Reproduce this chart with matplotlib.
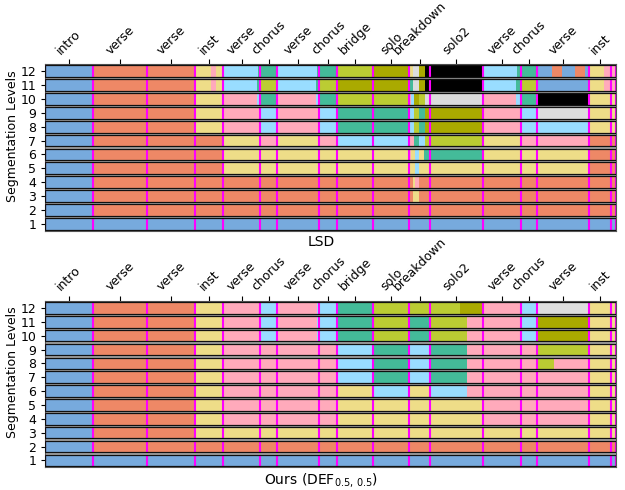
import matplotlib
matplotlib.use("Agg")
import matplotlib.pyplot as plt

# Colour for each segment label
palette = {
    "B": "#77AADD", "O": "#EE8866", "Y": "#EEDD88", "P": "#FFAABB", "L": "#99DDFF",
    "T": "#44BB99", "G": "#BBCC33", "V": "#AAAA00", "S": "#DDDDDD", "K": "#000000",
}

# Reference section boundaries (seconds) and their annotations
section_bounds = [0, 23.7, 51.0, 74.9, 88.7, 107.4, 116.0, 137.0, 145.7, 164.0,
                  182.0, 192.0, 218.7, 237.7, 245.7, 271.7, 282.7, 285.2]
section_labels = ["intro", "verse", "verse", "inst", "verse", "chorus", "verse", "chorus",
                  "bridge", "solo", "breakdown", "solo2", "verse", "chorus", "verse", "inst"]
duration = section_bounds[-1]

# Each level: list of (segment end, label); segments start where the previous one ends
lsd_levels = [
    [(285.2, "B")],
    [(23.7, "B"), (285.2, "O")],
    [(23.7, "B"), (183.9, "O"), (186.7, "Y"), (285.2, "O")],
    [(23.7, "B"), (183.7, "O"), (184.9, "Y"), (186.7, "P"), (285.2, "O")],
    [(23.7, "B"), (88.7, "O"), (184.9, "Y"), (186.7, "L"), (271.7, "Y"), (285.2, "O")],
    [(23.7, "B"), (88.7, "O"), (182.0, "Y"), (182.9, "P"), (184.9, "Y"), (186.7, "L"),
     (189.4, "Y"), (218.7, "T"), (271.7, "Y"), (285.2, "O")],
    [(23.7, "B"), (88.7, "O"), (107.4, "Y"), (116.0, "P"), (137.0, "Y"), (145.7, "P"),
     (182.0, "L"), (184.4, "P"), (186.7, "T"), (189.9, "L"), (218.7, "G"), (237.7, "Y"),
     (271.7, "P"), (285.2, "O")],
    [(23.7, "B"), (74.9, "O"), (88.7, "Y"), (107.4, "P"), (116.0, "L"), (137.0, "P"),
     (145.7, "L"), (182.0, "T"), (184.4, "L"), (186.7, "G"), (189.9, "T"), (218.7, "V"),
     (237.7, "P"), (271.7, "L"), (285.2, "Y")],
    [(23.7, "B"), (74.9, "O"), (88.7, "Y"), (107.4, "P"), (116.0, "L"), (137.0, "P"),
     (145.7, "L"), (182.0, "T"), (184.4, "L"), (186.7, "G"), (189.9, "T"), (218.7, "V"),
     (237.7, "P"), (245.7, "L"), (271.7, "S"), (285.2, "Y")],
    [(23.7, "B"), (74.9, "O"), (88.7, "Y"), (105.9, "P"), (107.4, "L"), (116.0, "T"),
     (135.4, "P"), (137.0, "L"), (145.7, "T"), (182.0, "G"), (182.9, "P"), (184.4, "L"),
     (186.7, "V"), (189.9, "G"), (218.7, "S"), (235.4, "P"), (237.7, "L"), (245.7, "T"),
     (271.7, "K"), (285.2, "Y")],
    [(23.7, "B"), (74.9, "O"), (82.9, "Y"), (85.4, "P"), (88.7, "Y"), (105.9, "L"),
     (107.4, "T"), (116.0, "G"), (135.4, "L"), (137.0, "T"), (145.7, "G"), (182.0, "V"),
     (184.0, "T"), (186.7, "S"), (189.9, "V"), (218.7, "K"), (235.4, "L"), (237.7, "T"),
     (245.7, "G"), (271.7, "B"), (279.4, "Y"), (285.2, "P")],
    [(23.7, "B"), (74.9, "O"), (82.9, "Y"), (85.4, "P"), (88.7, "Y"), (106.5, "L"),
     (116.0, "T"), (135.9, "L"), (145.7, "T"), (164.0, "G"), (182.0, "V"), (184.0, "Y"),
     (186.7, "S"), (189.9, "V"), (218.7, "K"), (235.7, "L"), (245.7, "T"), (253.2, "B"),
     (258.2, "O"), (264.9, "B"), (269.9, "O"), (271.7, "B"), (279.4, "Y"), (285.2, "P")],
]

ours_levels = [
    [(285.2, "B")],
    [(23.7, "B"), (285.2, "O")],
    [(23.7, "B"), (74.9, "O"), (285.2, "Y")],
    [(23.7, "B"), (74.9, "O"), (88.7, "Y"), (145.7, "P"), (218.7, "Y"), (271.7, "P"),
     (285.2, "Y")],
    [(23.7, "B"), (74.9, "O"), (88.7, "Y"), (145.7, "P"), (218.7, "Y"), (271.7, "P"),
     (285.2, "Y")],
    [(23.7, "B"), (74.9, "O"), (88.7, "Y"), (145.7, "P"), (164.0, "Y"), (182.0, "L"),
     (192.0, "Y"), (210.7, "L"), (271.7, "P"), (285.2, "Y")],
    [(23.7, "B"), (74.9, "O"), (88.7, "Y"), (145.7, "P"), (164.0, "L"), (182.0, "T"),
     (192.0, "L"), (210.7, "T"), (271.7, "P"), (285.2, "Y")],
    [(23.7, "B"), (74.9, "O"), (88.7, "Y"), (145.7, "P"), (164.0, "L"), (182.0, "T"),
     (192.0, "L"), (210.7, "T"), (245.7, "P"), (254.4, "G"), (271.7, "P"), (285.2, "Y")],
    [(23.7, "B"), (74.9, "O"), (88.7, "Y"), (145.7, "P"), (164.0, "L"), (182.0, "T"),
     (192.0, "L"), (210.7, "T"), (245.7, "P"), (271.7, "G"), (285.2, "Y")],
    [(23.7, "B"), (74.9, "O"), (88.7, "Y"), (106.9, "P"), (116.0, "L"), (135.7, "P"),
     (145.7, "L"), (164.0, "T"), (182.0, "G"), (192.0, "T"), (210.7, "G"), (237.7, "P"),
     (245.7, "L"), (271.7, "V"), (285.2, "Y")],
    [(23.7, "B"), (74.9, "O"), (88.7, "Y"), (106.9, "P"), (116.0, "L"), (135.7, "P"),
     (145.7, "L"), (164.0, "T"), (182.0, "G"), (192.0, "T"), (210.7, "G"), (237.7, "P"),
     (245.7, "L"), (271.7, "V"), (285.2, "Y")],
    [(23.7, "B"), (74.9, "O"), (88.7, "Y"), (106.9, "P"), (116.0, "L"), (135.7, "P"),
     (145.7, "L"), (164.0, "T"), (207.4, "G"), (218.7, "V"), (237.7, "P"), (245.7, "L"),
     (271.7, "S"), (285.2, "Y")],
]

BAR_H = 0.84


def draw_levels(ax, levels):
    ax.set_facecolor("#A4A4A4")
    for lvl, segments in enumerate(levels, start=1):
        start = 0.0
        for end, lab in segments:
            ax.barh(lvl, end - start, left=start, height=BAR_H,
                    color=palette[lab], linewidth=0, zorder=2)
            start = end
        ax.vlines(section_bounds, lvl - BAR_H / 2, lvl + BAR_H / 2,
                  colors="#FF00FF", linewidth=1.5, zorder=3)
        ax.barh(lvl, duration, left=0, height=BAR_H, fill=False,
                edgecolor="#111111", linewidth=0.9, zorder=4)
    ax.set_xlim(0, duration)
    ax.set_ylim(0.5, 12.5)
    ax.set_yticks(range(1, 13))
    ax.tick_params(axis="y", labelsize=9, length=3)
    mids = [(a + b) / 2 for a, b in zip(section_bounds[:-2], section_bounds[1:-1])]
    ax.xaxis.tick_top()
    ax.set_xticks(mids)
    ax.set_xticklabels(section_labels, rotation=45, ha="center", fontsize=9)
    ax.tick_params(axis="x", length=3.5, pad=2)
    ax.set_ylabel("Segmentation Levels", fontsize=9)
    ax.yaxis.set_label_coords(-0.046, 0.57)
    for sp in ax.spines.values():
        sp.set_color("#555555")
        sp.set_linewidth(0.8)


fig = plt.figure(figsize=(6.25, 4.9), dpi=100)
ax_top = fig.add_axes([0.0725, 0.5292, 0.9131, 0.3396])
ax_bot = fig.add_axes([0.0725, 0.0463, 0.9131, 0.3394])

draw_levels(ax_top, lsd_levels)
draw_levels(ax_bot, ours_levels)

fig.text(321 / 625, 1 - 235 / 490, "LSD", ha="center", va="top", fontsize=10)
fig.text(321 / 625, 1 - 471 / 490, "Ours (DEF$_{0.5,\\,0.5}$)", ha="center", va="top",
         fontsize=10)

fig.savefig("out.png", dpi=100)
